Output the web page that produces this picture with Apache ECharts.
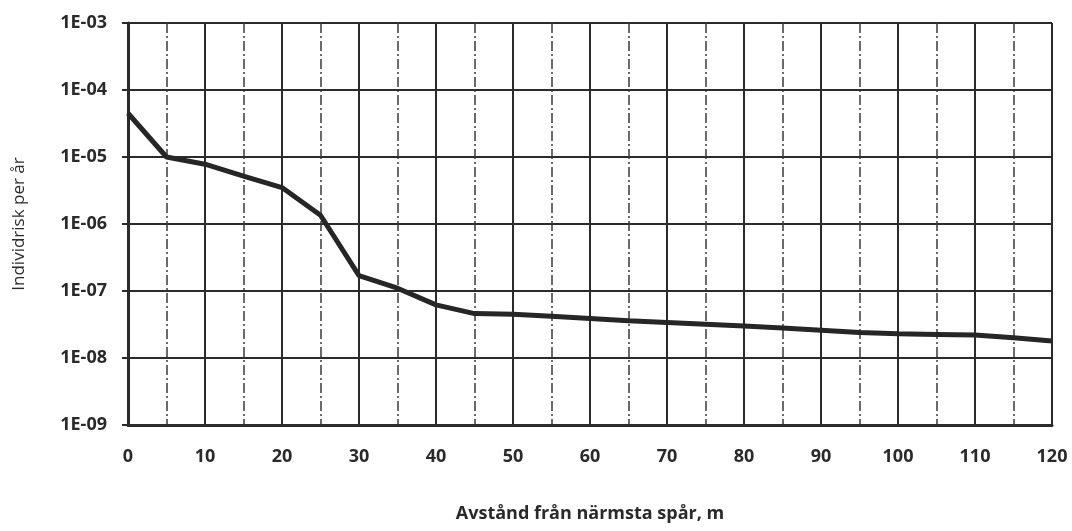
<!DOCTYPE html>
<html>
<head>
<meta charset="utf-8">
<style>
html,body{margin:0;padding:0;background:#fff;}
#chart{width:1072px;height:531px;}
</style>
<script src="https://cdn.jsdelivr.net/npm/echarts@6/dist/echarts.min.js"></script>
</head>
<body>
<div id="chart"></div>
<script>
const distances = [0,5,10,15,20,25,30,35,40,45,50,55,60,65,70,75,80,85,90,95,100,105,110,115,120];
const risk = [4.5e-5,1.0e-5,7.8e-6,5.2e-6,3.5e-6,1.35e-6,1.7e-7,1.1e-7,6.2e-8,4.6e-8,4.5e-8,4.2e-8,3.9e-8,3.6e-8,3.4e-8,3.2e-8,3.0e-8,2.8e-8,2.6e-8,2.4e-8,2.3e-8,2.25e-8,2.2e-8,2.0e-8,1.8e-8];
const yTickLabels = ['1E-09','1E-08','1E-07','1E-06','1E-05','1E-04','1E-03'];
const xTitle = 'Avstånd från närmsta spår, m';
const yTitle = 'Individrisk per år';

const chart = echarts.init(document.getElementById('chart'), null, {renderer:'canvas'});
const fontFam = '"Open Sans", "DejaVu Sans", sans-serif';
chart.setOption({
  animation:false,
  backgroundColor:'#ffffff',
  grid:{left:128, right:20, top:23, bottom:106, containLabel:false},
  xAxis:{
    type:'value', min:0, max:120, interval:10,
    name:xTitle, nameLocation:'middle', nameGap:80,
    nameTextStyle:{fontFamily:fontFam, fontSize:18, color:'#2a2a2a', fontWeight:'bold'},
    axisLine:{show:true, lineStyle:{color:'#2b2b2b', width:3}},
    axisTick:{show:false},
    axisLabel:{margin:23, fontFamily:fontFam, fontSize:18, fontWeight:'bold', color:'#2a2a2a'},
    splitLine:{show:true, lineStyle:{color:'#2b2b2b', width:2}},
    minorTick:{show:false, splitNumber:2},
    minorSplitLine:{show:true, lineStyle:{color:'#3a3a3a', width:1.5, type:[10,3,2,3]}}
  },
  yAxis:{
    type:'log', logBase:10, min:1e-9, max:1e-3,
    name:yTitle, nameLocation:'middle', nameGap:100, nameRotate:90,
    nameTextStyle:{fontFamily:fontFam, fontSize:17, color:'#2a2a2a'},
    axisLine:{show:true, lineStyle:{color:'#2b2b2b', width:3}},
    axisTick:{show:true, inside:false, length:6, lineStyle:{color:'#2b2b2b', width:2}},
    axisLabel:{margin:21, fontFamily:fontFam, fontSize:18, fontWeight:'bold', color:'#2a2a2a',
      formatter:function(v){const e=Math.round(Math.log10(v)); return yTickLabels[e+9];}},
    splitLine:{show:true, lineStyle:{color:'#2b2b2b', width:2}}
  },
  series:[{
    type:'line',
    data:distances.map((d,i)=>[d,risk[i]]),
    showSymbol:false,
    lineStyle:{color:'#262626', width:5},
    z:5
  }]
});
</script>
</body>
</html>
